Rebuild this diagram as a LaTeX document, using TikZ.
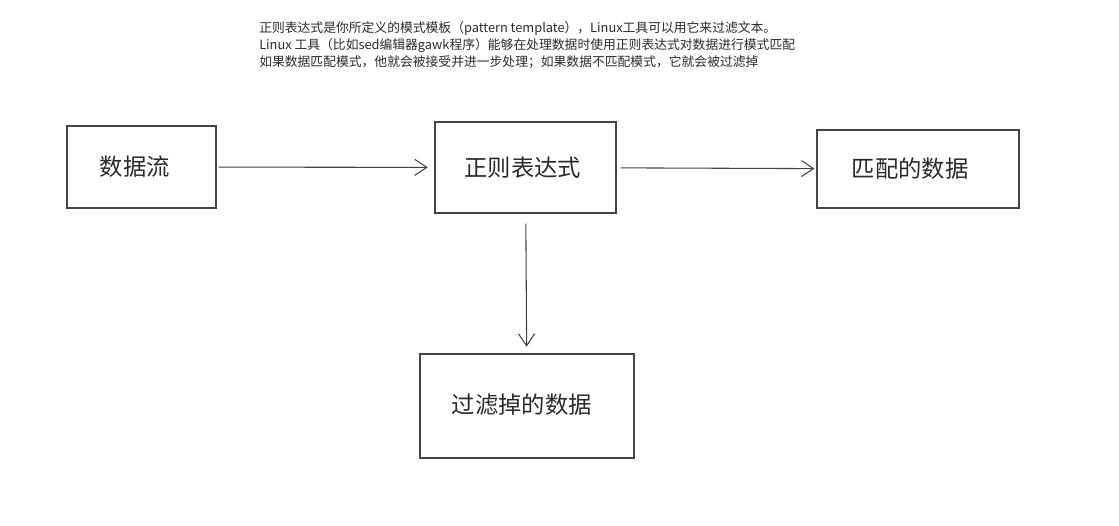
\documentclass[tikz,border=0pt]{standalone}
\usepackage{fontspec}
\setmainfont{Noto Sans CJK SC}
\usepackage{xcolor}
\usetikzlibrary{arrows.meta,positioning}
\definecolor{ink}{HTML}{2A2A2A}
\definecolor{edge}{HTML}{444444}
\tikzset{
  box/.style={draw=edge,line width=0.9pt,minimum width=#1*0.75pt,inner sep=0pt,align=center,
              font=\fontsize{17.5}{21}\selectfont,text=ink},
  box/.default=150,
  flow/.style={-{Straight Barb[length=9pt,width=12pt]},line width=0.8pt,draw=edge},
  note/.style={font=\fontsize{9.6}{12.75}\selectfont,text=ink,align=left,inner sep=0pt},
}
\begin{document}
\begin{tikzpicture}[x=0.75pt,y=-0.75pt]
  \useasboundingbox (0,0) rectangle (1119,525);
  \node[note,anchor=north west] (txt) at (259,21)
      {正则表达式是你所定义的模式模板（pattern template），Linux工具可以用它来过滤文本。\\
       Linux 工具（比如sed编辑器gawk程序）能够在处理数据时使用正则表达式对数据进行模式匹配\\
       如果数据匹配模式，他就会被接受并进一步处理；如果数据不匹配模式，它就会被过滤掉};
  \node[box=149,minimum height=82*0.75pt] (src) at (141.5,167) {数据流\hspace*{10pt}};
  \node[box=181,minimum height=91*0.75pt] (re) at (525.5,167.5) {正则表达式\hspace*{4pt}};
  \node[box=202,minimum height=78*0.75pt] (ok) at (918,169) {匹配的数据\hspace*{12pt}};
  \node[box=214,minimum height=104*0.75pt] (drop) at (527,406) {\raisebox{4pt}{过滤掉的数据}\hspace*{8pt}};
  \draw[flow,shorten <=1.5pt,shorten >=5pt] (src) -- (re);
  \draw[flow,shorten <=3pt,shorten >=1.5pt] (re) -- (ok);
  \draw[flow,shorten <=7.5pt,shorten >=5pt] (re) -- (drop);
\end{tikzpicture}
\end{document}
